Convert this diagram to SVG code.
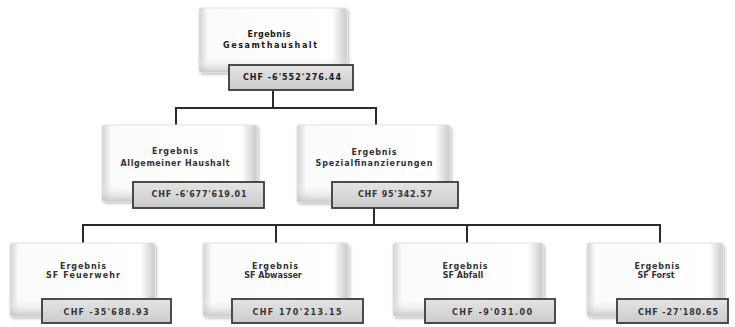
<svg xmlns="http://www.w3.org/2000/svg" width="735" height="327" viewBox="0 0 735 327">
<defs>
<linearGradient id="gh" x1="0" y1="0" x2="1" y2="0">
<stop offset="0" stop-color="#d2d2d2"/>
<stop offset="0.06" stop-color="#fbfbfb"/>
<stop offset="0.9" stop-color="#ffffff"/>
<stop offset="1" stop-color="#c8c8c8"/>
</linearGradient>
<linearGradient id="gv" x1="0" y1="0" x2="0" y2="1">
<stop offset="0" stop-color="#ffffff" stop-opacity="0"/>
<stop offset="0.75" stop-color="#ffffff" stop-opacity="0"/>
<stop offset="1" stop-color="#c0c0c0" stop-opacity="0.8"/>
</linearGradient>
<linearGradient id="gl" x1="0" y1="0" x2="0" y2="1">
<stop offset="0" stop-color="#e4e4e4"/>
<stop offset="0.5" stop-color="#d8d8d8"/>
<stop offset="1" stop-color="#cacaca"/>
</linearGradient>
<filter id="sh" x="-10%" y="-10%" width="125%" height="130%">
<feDropShadow dx="1.5" dy="2" stdDeviation="1.5" flood-color="#000" flood-opacity="0.25"/>
</filter>
</defs>
<style>
.box{fill:url(#gh);stroke:#e2e2e2;stroke-width:1;filter:url(#sh)}
.boxv{fill:url(#gv);stroke:none}
.lab{fill:url(#gl);stroke:#3a3a3a;stroke-width:1.8}
text{font-family:"DejaVu Sans","Liberation Sans",sans-serif;font-size:8px;font-weight:bold;fill:#333;text-anchor:middle}
.b{fill:#1a1a1a}
.c{stroke:#2a2a2a;stroke-width:2;fill:none}
</style>
<g id="connectors">
<path class="c" d="M273 90V108M176 108H376M176 107V125M376 107V125"/>
<path class="c" d="M374 208V225M83 225H660M83 224V243M276 224V243M467 224V243M660 224V243"/>
</g>
<g id="n_gesamt">
<rect class="box" x="199" y="8" width="148" height="64" rx="2"/>
<rect class="boxv" x="199" y="8" width="148" height="64" rx="2"/>
<text class="b" x="269" y="37" textLength="43" lengthAdjust="spacing">Ergebnis</text>
<text class="b" x="270" y="48" textLength="94" lengthAdjust="spacing">Gesamthaushalt</text>
<rect class="lab" x="229" y="65" width="124" height="25"/>
<text class="b" x="292" y="80" textLength="98" lengthAdjust="spacing">CHF -6'552'276.44</text>
</g>
<g id="n_allgemein">
<rect class="box" x="102" y="125" width="155" height="76" rx="2"/>
<rect class="boxv" x="102" y="125" width="155" height="76" rx="2"/>
<text x="175" y="154" textLength="46" lengthAdjust="spacing">Ergebnis</text>
<text x="175" y="166" textLength="109" lengthAdjust="spacing">Allgemeiner Haushalt</text>
<rect class="lab" x="133" y="182" width="131" height="26"/>
<text x="199" y="197" textLength="95" lengthAdjust="spacing">CHF -6'677'619.01</text>
</g>
<g id="n_spezial">
<rect class="box" x="297" y="125" width="153" height="77" rx="2"/>
<rect class="boxv" x="297" y="125" width="153" height="77" rx="2"/>
<text x="374" y="155" textLength="45" lengthAdjust="spacing">Ergebnis</text>
<text x="374" y="166" textLength="117" lengthAdjust="spacing">Spezialfinanzierungen</text>
<rect class="lab" x="332" y="182" width="126" height="26"/>
<text x="395" y="197" textLength="74" lengthAdjust="spacing">CHF 95'342.57</text>
</g>
<g id="n_feuerwehr">
<rect class="box" x="10" y="243" width="145" height="73" rx="2"/>
<rect class="boxv" x="10" y="243" width="145" height="73" rx="2"/>
<text x="83" y="269" textLength="46" lengthAdjust="spacing">Ergebnis</text>
<text x="83" y="278" textLength="74" lengthAdjust="spacing">SF Feuerwehr</text>
<rect class="lab" x="42" y="299" width="129" height="24"/>
<text x="106" y="315" textLength="85" lengthAdjust="spacing">CHF -35'688.93</text>
</g>
<g id="n_abwasser">
<rect class="box" x="203" y="243" width="145" height="73" rx="2"/>
<rect class="boxv" x="203" y="243" width="145" height="73" rx="2"/>
<text x="275" y="269" textLength="46" lengthAdjust="spacing">Ergebnis</text>
<text x="273" y="278">SF Abwasser</text>
<rect class="lab" x="232" y="299" width="131" height="24"/>
<text x="297" y="315" textLength="89" lengthAdjust="spacing">CHF 170'213.15</text>
</g>
<g id="n_abfall">
<rect class="box" x="393" y="243" width="150" height="73" rx="2"/>
<rect class="boxv" x="393" y="243" width="150" height="73" rx="2"/>
<text x="465" y="269" textLength="45" lengthAdjust="spacing">Ergebnis</text>
<text x="463" y="278">SF Abfall</text>
<rect class="lab" x="425" y="299" width="130" height="24"/>
<text x="492" y="315" textLength="80" lengthAdjust="spacing">CHF -9'031.00</text>
</g>
<g id="n_forst">
<rect class="box" x="587" y="243" width="136" height="73" rx="2"/>
<rect class="boxv" x="587" y="243" width="136" height="73" rx="2"/>
<text x="657" y="269" textLength="45" lengthAdjust="spacing">Ergebnis</text>
<text x="656" y="278">SF Forst</text>
<rect class="lab" x="617" y="299" width="111" height="24"/>
<text x="678" y="315" textLength="80" lengthAdjust="spacing">CHF -27'180.65</text>
</g>
</svg>
